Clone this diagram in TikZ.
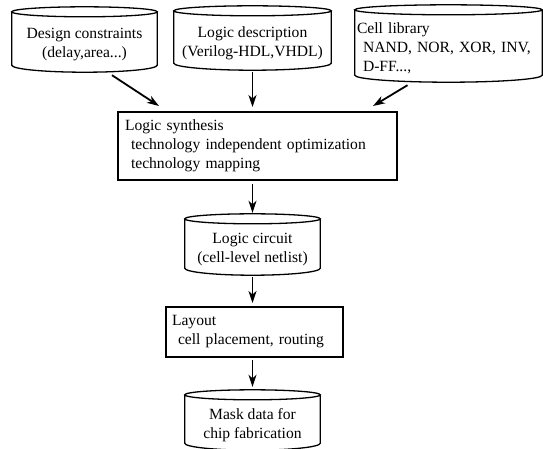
\documentclass[tikz,border=0pt]{standalone}
\usepackage{fontspec}
\setmainfont{Liberation Serif}
\usetikzlibrary{positioning,arrows.meta,calc}

% outline of a drum (top ellipse, sides, bottom arc) round a named node
\newcommand{\drumline}[1]{%
  \draw[drumedge] let \p1=(#1.north west), \p2=(#1.south east), \n1={(\x2-\x1)/2} in
    ({\x1},{\y1+5pt}) -- ({\x1},{\y2+7pt})
    arc[start angle=180, end angle=360, x radius=\n1, y radius=7pt]
    -- ({\x2},{\y1+5pt})
    ({(\x1+\x2)/2},{\y1+5pt}) ellipse[x radius=\n1, y radius=5pt];}
\newcommand{\subind}{\hspace*{6pt}}

\begin{document}
\begin{tikzpicture}[
  x=1pt, y=-1pt,
  font=\fontsize{15.6}{19}\selectfont,
  drum/.style={rectangle, inner sep=0pt, align=center},
  drumedge/.style={line width=1.3pt},
  stage/.style={rectangle, draw, line width=2pt, align=left},
  flow/.style={-{Stealth[length=12pt,width=8pt,inset=3.5pt]}, line width=1.8pt}
]
\useasboundingbox (0,0) rectangle (543,448);

% Inputs
\node[drum, minimum width=145pt, minimum height=55pt] (design) at (84.5,44.5) {Design constraints\\(delay,area...)};
\node[drum, minimum width=157pt, minimum height=54pt] (logic) at (252.5,43) {Logic description\\(Verilog-HDL,VHDL)};
\node[drum, minimum width=187pt, minimum height=67pt, inner xsep=2pt, text width=183pt, align=left] (cell) at (448.5,48.5)
  {Cell library\\\subind NAND, NOR, XOR, INV,\\\subind D-FF...,};

% Synthesis
\node[stage, minimum width=279pt, minimum height=68pt, inner xsep=7pt, text width=265pt] (synth) at (257.5,146)
  {Logic synthesis\\\subind technology independent optimization\\\subind technology mapping};
\node[drum, minimum width=135pt, minimum height=51pt] (circuit) at (252.5,249.5) {Logic circuit\\(cell-level netlist)};

% Layout
\node[stage, minimum width=177pt, minimum height=50pt, inner xsep=6pt, text width=165pt] (layout) at (254.5,332)
  {Layout\\\subind cell placement, routing};
\node[drum, minimum width=135pt, minimum height=50pt] (mask) at (252.5,425) {Mask data for\\chip fabrication};

\drumline{design}
\drumline{logic}
\drumline{cell}
\drumline{circuit}
\drumline{mask}

\draw[flow] ($(design.south)+(27.5,3)$) -- ($(synth.north west)+(42,-5)$);
\draw[flow, shorten <=2pt, shorten >=4pt] (logic.south) -- (logic.south |- synth.north);
\draw[flow] ($(cell.south)+(-41,3)$) -- ($(synth.north east)+(-25,-5)$);
\draw[flow, shorten <=3pt, shorten >=11pt] (circuit.north |- synth.south) -- (circuit.north);
\draw[flow, shorten <=2pt, shorten >=3pt] (circuit.south) -- (layout.north -| circuit.south);
\draw[flow, shorten <=2pt, shorten >=13pt] (mask.north |- layout.south) -- (mask.north);

\end{tikzpicture}
\end{document}
